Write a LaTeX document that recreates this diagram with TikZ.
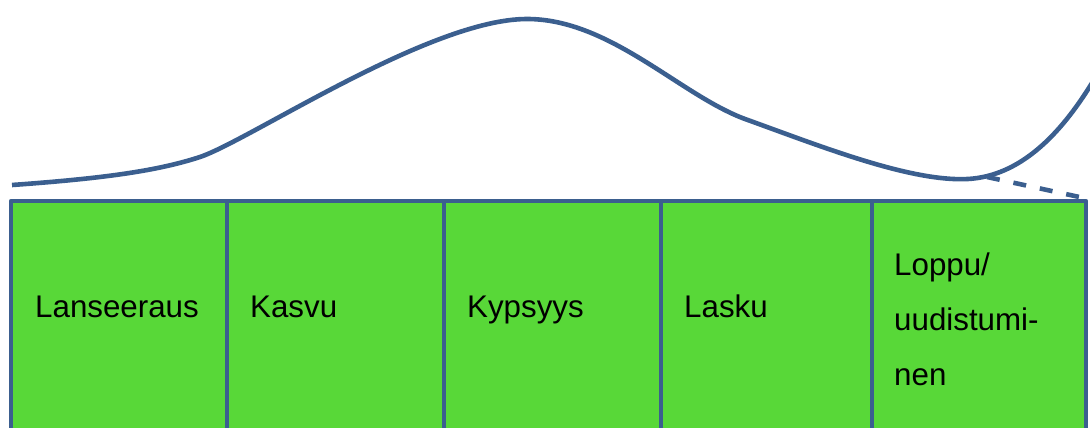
\documentclass[tikz,border=0pt]{standalone}
\usepackage{fontspec}
\setmainfont{Liberation Sans}
\definecolor{edge}{HTML}{3B5F8F}
\definecolor{phase}{HTML}{58D838}
\begin{document}
\begin{tikzpicture}[x=1pt,y=-1pt,
  stage/.style={draw=edge,line width=4.5pt,fill=phase,line join=round},
  label/.style={anchor=base west,inner sep=0pt,font=\fontsize{31.3}{36}\selectfont},
  curve/.style={draw=edge,line width=4.6pt,line cap=butt}]
\useasboundingbox (0,0) rectangle (1090,428);
\clip (0,0) rectangle (1090,428);
% life-cycle stages
\path[stage] (11,201) rectangle (227,460);
\path[stage] (227,201) rectangle (444,460);
\path[stage] (444,201) rectangle (661,460);
\path[stage] (661,201) rectangle (872,460);
\path[stage] (872,201) rectangle (1086,460);
\node[label] (l1) at (35,317) {Lanseeraus};
\node[label] (l2) at (250,317) {Kasvu};
\node[label] (l3) at (467,317) {Kypsyys};
\node[label] (l4) at (684,317) {Lasku};
\node[label] (l5a) at (894,275) {Loppu/};
\node[label] (l5b) at (894,330) {uudistumi-};
\node[label] (l5c) at (894,385) {nen};
% sales curve
\coordinate (c0) at (12,185);
\coordinate (c1) at (200,157);
\coordinate (peak) at (527,19);
\coordinate (c3) at (745,119);
\coordinate (low) at (968,179);
\coordinate (c5) at (1092,83);
\draw[curve] (c0) .. controls (110,178) and (160,170) .. (c1)
  .. controls (250,140) and (430,19) .. (peak)
  .. controls (610,19) and (680,95) .. (c3)
  .. controls (820,146) and (910,182) .. (low)
  .. controls (1020,176) and (1060,135) .. (c5);
% decline alternative
\coordinate (d0) at (987,177);
\coordinate (d1) at (1084,198);
\draw[curve,dash pattern=on 13pt off 14pt] (d0) -- (d1);
\end{tikzpicture}
\end{document}
